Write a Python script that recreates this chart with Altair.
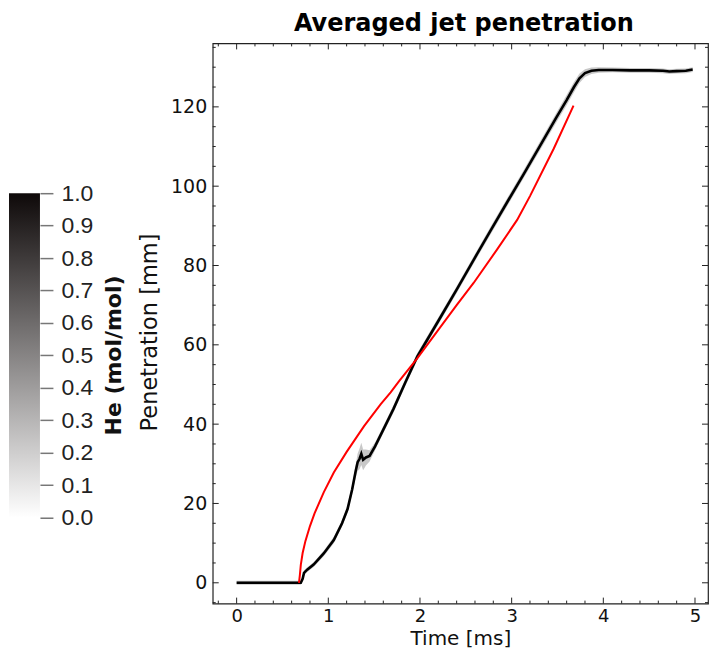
import altair as alt
import pandas as pd

# ---- data ----
black_t = [0.00, 0.70, 0.72, 0.735, 0.77, 0.84, 0.95, 1.06, 1.15, 1.21, 1.26, 1.30, 1.32, 1.34,
           1.36, 1.38, 1.41, 1.45, 1.51, 1.60, 1.71, 1.84, 1.97, 2.20, 2.40, 2.60, 2.77, 2.97,
           3.13, 3.30, 3.49, 3.60, 3.68, 3.74, 3.80, 3.87, 3.95, 4.10, 4.30, 4.50, 4.65, 4.72,
           4.80, 4.90, 4.975]
black_p = [0.0, 0.0, 1.0, 2.5, 3.3, 4.6, 7.4, 10.8, 15.0, 18.6, 23.5, 28.3, 30.4, 31.2,
           32.5, 31.0, 31.6, 32.0, 34.4, 38.6, 43.8, 50.5, 57.0, 66.0, 73.9, 82.0, 88.8, 96.7,
           103.0, 109.8, 117.4, 121.7, 125.0, 127.2, 128.5, 129.1, 129.3, 129.3, 129.2, 129.2, 129.1, 128.9,
           129.0, 129.1, 129.4]
black_err = [0.5, 0.5, 0.6, 0.6, 0.6, 0.6, 0.7, 0.8, 0.8, 0.9, 1.0, 1.6, 2.2, 2.6,
             2.8, 2.6, 2.0, 1.4, 1.0, 0.9, 0.9, 0.9, 0.9, 0.9, 0.9, 0.9, 1.0, 1.0,
             1.0, 1.1, 1.2, 1.3, 1.3, 1.2, 1.0, 0.8, 0.7, 0.6, 0.6, 0.6, 0.6, 0.6,
             0.6, 0.6, 0.6]

red_t = [0.68, 0.69, 0.70, 0.72, 0.75, 0.80, 0.85, 0.95, 1.06, 1.20, 1.39, 1.57, 1.68, 1.77,
         1.97, 2.22, 2.40, 2.585, 2.84, 3.06, 3.20, 3.46, 3.675]
red_p = [0.0, 2.0, 4.5, 7.5, 10.5, 14.3, 17.5, 22.8, 27.8, 33.0, 39.5, 45.0, 48.0, 50.8,
         56.6, 64.4, 70.0, 75.6, 84.0, 91.5, 97.5, 109.5, 120.3]

x_major = [0, 1, 2, 3, 4, 5]
x_minor = [-0.2] + [round(i * 0.2, 1) for i in range(1, 26) if i % 5 != 0]
y_major = [0, 20, 40, 60, 80, 100, 120]
y_minor = [v for v in range(-5, 136, 5) if v % 20 != 0]
cbar_ticks = [0.0, 0.1, 0.2, 0.3, 0.4, 0.5, 0.6, 0.7, 0.8, 0.9, 1.0]

# ---- tables ----
df_black = pd.DataFrame({"t": black_t, "p": black_p, "e": black_err})
df_black["lo"] = df_black["p"] - df_black["e"]
df_black["hi"] = df_black["p"] + df_black["e"]
df_red = pd.DataFrame({"t": red_t, "p": red_p})
df_xmaj = pd.DataFrame({"t": x_major})
df_xmin = pd.DataFrame({"t": x_minor})
df_ymaj = pd.DataFrame({"p": y_major})
df_ymin = pd.DataFrame({"p": y_minor})

W, H = 496, 561
xscale = alt.Scale(domain=[-0.261, 5.142], nice=False, zero=False)
yscale = alt.Scale(domain=[-5.25, 136], nice=False, zero=False)
FONT = "DejaVu Sans"

x_axis = alt.Axis(values=x_major, format="d", ticks=False, tickSize=0, domain=False, grid=False,
                  labelFont=FONT, labelFontSize=18, labelColor="#111", labelPadding=4,
                  title="Time [ms]", titleFont=FONT, titleFontSize=20, titleFontWeight="normal",
                  titleColor="#111", titlePadding=3)
y_axis = alt.Axis(values=y_major, format="d", ticks=False, tickSize=0, domain=False, grid=False,
                  labelFont=FONT, labelFontSize=19, labelColor="#111", labelPadding=6,
                  title="Penetration [mm]", titleFont=FONT, titleFontSize=22.5, titleFontWeight="normal",
                  titleColor="#111", titlePadding=9, titleY=289)

X = alt.X("t:Q", scale=xscale, axis=x_axis)

band = alt.Chart(df_black).mark_area(color="#9a9a9a", opacity=0.55).encode(
    x=X,
    y=alt.Y("lo:Q", scale=yscale, axis=y_axis),
    y2="hi:Q",
)
black = alt.Chart(df_black).mark_line(color="#000000", strokeWidth=2.6).encode(
    x=X, y=alt.Y("p:Q", scale=yscale, axis=y_axis))
red = alt.Chart(df_red).mark_line(color="#ff0000", strokeWidth=2.0).encode(
    x=X, y=alt.Y("p:Q", scale=yscale, axis=y_axis))

TC = "#222222"


def xticks(df, length, top):
    y0, y1 = (0, length) if top else (H, H - length)
    return alt.Chart(df).mark_rule(color=TC, strokeWidth=1).encode(
        x=X, y=alt.value(y0), y2=alt.value(y1))


def yticks(df, length, right):
    x0, x1 = (W, W - length) if right else (0, length)
    return alt.Chart(df).mark_rule(color=TC, strokeWidth=1).encode(
        y=alt.Y("p:Q", scale=yscale, axis=y_axis), x=alt.value(x0), x2=alt.value(x1))


ticks = [xticks(df_xmaj, 6, False), xticks(df_xmaj, 6, True),
         xticks(df_xmin, 3, False), xticks(df_xmin, 3, True),
         yticks(df_ymaj, 6, False), yticks(df_ymaj, 6, True),
         yticks(df_ymin, 3, False), yticks(df_ymin, 3, True)]

main = alt.layer(band, black, red, *ticks).properties(
    width=W, height=H, view=alt.ViewBackground(stroke="#222222", strokeWidth=1.2))

# ---- colour bar ----
df_cb = pd.DataFrame({"lo": [0.0], "hi": [1.0], "x0": [0.0], "x1": [1.0]})
grad = alt.Gradient(gradient="linear",
                    stops=[alt.GradientStop(color="#ffffff", offset=0),
                           alt.GradientStop(color="#0e0909", offset=1)],
                    x1=0, x2=0, y1=1, y2=0)
cbar = alt.Chart(df_cb).mark_rect(fill=grad).encode(
    x=alt.X("x0:Q", scale=alt.Scale(domain=[0, 1], nice=False), axis=None),
    x2="x1:Q",
    y=alt.Y("lo:Q", scale=alt.Scale(domain=[-0.2647, 1.4615], nice=False, zero=False),
            axis=alt.Axis(orient="right", values=cbar_ticks, format=".1f", domain=False, grid=False,
                          tickColor="#777777", tickSize=13, tickWidth=1.5,
                          labelFont="Liberation Sans", labelFontSize=23, labelColor="#222222",
                          labelPadding=8, title="He (mol/mol)", titleAngle=270, titleBaseline="top",
                          titleFont=FONT, titleFontSize=22, titleFontWeight="bold",
                          titleColor="#111111", titlePadding=11, titleY=312)),
    y2="hi:Q",
).properties(width=31, height=H, view=alt.ViewBackground(stroke=None))

chart = alt.hconcat(cbar, main, spacing=13).properties(
    title=alt.TitleParams(text="Averaged jet penetration", font=FONT, fontSize=24, fontWeight="bold",
                          color="#000000", anchor="middle", dx=105, offset=6),
    padding={"left": 1, "top": 3, "right": 0, "bottom": 0},
).configure_view(stroke=None)

chart.save("out.html", embed_options={"renderer": "svg", "actions": False})
